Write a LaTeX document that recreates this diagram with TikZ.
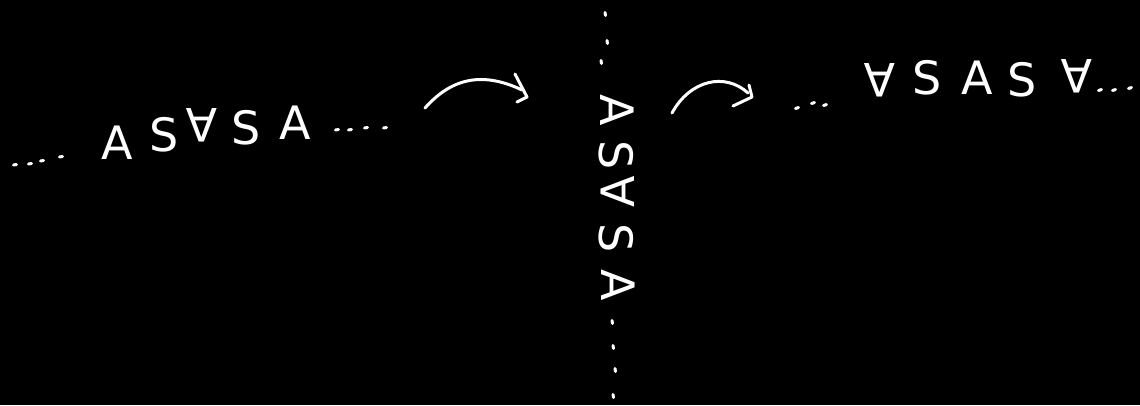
\documentclass[tikz,border=0pt]{standalone}
\usepackage{fontspec}
\newfontfamily\hand{DejaVu Sans}
\begin{document}
\begin{tikzpicture}[x=1pt,y=-1pt,
  letter/.style={text=white, font=\hand\fontsize{46}{46}\selectfont, inner sep=0pt, anchor=center},
  dotmark/.style={white, line width=3pt, line cap=round},
  stroke/.style={white, line width=3pt, line cap=round, line join=round}]
\fill[black] (0,0) rectangle (1140,405);
\useasboundingbox (0,0) rectangle (1140,405);
% left string
\node[letter] (l1) at (117,143) {A};
\node[letter] (l2) at (164,135) {S};
\node[letter, rotate=180] (l3) at (202,125) {A};
\node[letter] (l4) at (246,128) {S};
\node[letter] (l5) at (295,123) {A};
\foreach \a/\b in {15/165, 30/164, 42/161, 61/157, 337/130, 350/130, 366/128, 385/128}
  \draw[dotmark] (\a-1.5,\b) -- (\a+1.5,\b-0.5);
% vertical string
\node[letter, rotate=-90] (v1) at (617,110) {A};
\node[letter, rotate=-90] (v2) at (616,155) {S};
\node[letter, rotate=90] (v3) at (618,192) {A};
\node[letter, rotate=-90] (v4) at (616,238) {S};
\node[letter, rotate=-90] (v5) at (618,285) {A};
\foreach \a/\b in {605/14, 607/42, 601/62, 612/322, 613/347, 615/370, 613/396}
  \draw[dotmark] (\a,\b-1.5) -- (\a+0.5,\b+1.5);
% right string
\node[letter, rotate=180] (r1) at (880,80) {A};
\node[letter] (r2) at (927,78) {S};
\node[letter] (r3) at (977,78) {A};
\node[letter] (r4) at (1022,80) {S};
\node[letter, rotate=180] (r5) at (1077,76) {A};
\foreach \a/\b in {797/108, 813/103, 825/105, 1100/90, 1114/90, 1130/88}
  \draw[dotmark] (\a-1.5,\b+0.5) -- (\a+1.5,\b-0.5);
% arrow 1
\coordinate (a1s) at (425,108);
\coordinate (a1e) at (527,97);
\coordinate (a1u) at (515,74);
\coordinate (a1d) at (517,102);
\draw[stroke] (a1s) .. controls (450,80) and (480,70) .. (522,90);
\draw[stroke] (a1u) -- (a1e) -- (a1d);
% arrow 2
\coordinate (a2s) at (672,113);
\coordinate (a2e) at (752,97);
\coordinate (a2u) at (749,85);
\coordinate (a2d) at (733,106);
\draw[stroke] (a2s) .. controls (690,80) and (725,72) .. (748,93);
\draw[stroke] (a2u) -- (a2e) -- (a2d);
\end{tikzpicture}
\end{document}
